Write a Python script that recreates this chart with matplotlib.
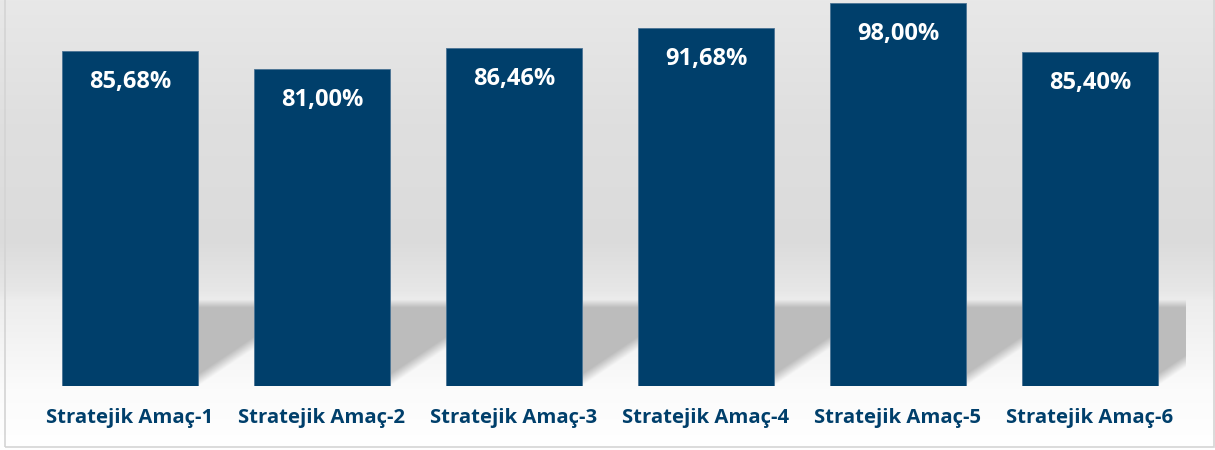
import numpy as np
import matplotlib.pyplot as plt
from matplotlib.patches import Rectangle

# Veriler
categories = ['Stratejik Amaç-1', 'Stratejik Amaç-2', 'Stratejik Amaç-3',
              'Stratejik Amaç-4', 'Stratejik Amaç-5', 'Stratejik Amaç-6']
values = [85.68, 81.00, 86.46, 91.68, 98.00, 85.40]
value_labels = ['85,68%', '81,00%', '86,46%', '91,68%', '98,00%', '85,40%']

navy = '#003f6b'
plt.rcParams['font.family'] = ['Open Sans', 'DejaVu Sans']

W, H = 1215, 450
fig = plt.figure(figsize=(W / 100, H / 100), dpi=100)

# Arka plan (dikey gri gradyan)
bg = fig.add_axes([0, 0, 1, 1])
stops_y = [0, 120, 240, 290, 300, 390, 450]
stops_g = [0.91, 0.875, 0.86, 0.905, 0.93, 0.985, 1.0]
rows = np.interp(np.arange(H), stops_y, stops_g)
bg.imshow(np.tile(rows[:, None, None], (1, 2, 3)), extent=(0, 1, 0, 1),
          aspect='auto', origin='upper')
bg.set_axis_off()

# Çerçeve
fig.patches.append(Rectangle((5 / W, 3 / H), 1209 / W, 1, transform=fig.transFigure,
                             fill=False, edgecolor='#d4d4d4', linewidth=1.2))

ax = fig.add_axes([34 / W, 64 / H, 1152 / W, 386 / H])
ax.patch.set_alpha(0)

x = np.arange(len(values))
width = 0.71
ymax = 386 / 3.908

# Çubuk gölgeleri
xs = np.linspace(-0.5, 5.5, 1500)
ys = np.linspace(0, 30, 240)
X, Y = np.meshgrid(xs, ys)
px_y = 386 / ymax
alpha = np.zeros_like(X)
for xi in x:
    xr = xi + width / 2
    top = np.clip((21 - Y) * px_y / 8 + 0.5, 0, 1)
    line = 1.5 + (X - xr) * 32.8
    diag = np.clip((Y - line) * px_y / 12 + 0.5, 0, 1)
    m = (X >= xr) & (X <= xr + 0.45)
    alpha = np.maximum(alpha, top * diag * m)
shadow = np.zeros(X.shape + (4,))
shadow[..., :3] = 0.74
shadow[..., 3] = alpha
ax.imshow(shadow, extent=(-0.5, 5.5, 0, 30), origin='lower', aspect='auto', zorder=1)

ax.bar(x, values, width=width, color=navy, edgecolor='#4a7394', linewidth=0.6, zorder=3)

for xi, v, lab in zip(x, values, value_labels):
    ax.annotate(lab, (xi, v), xytext=(0, -31), textcoords='offset pixels',
                ha='center', va='center', color='white', fontsize=17,
                fontweight='bold', zorder=4)

ax.set_xticks(x, categories, fontsize=14.6, fontweight='bold', color=navy)
ax.tick_params(axis='x', length=0, pad=16)
ax.set_yticks([])
for s in ax.spines.values():
    s.set_visible(False)
ax.set_xlim(-0.5, 5.5)
ax.set_ylim(0, ymax)

fig.savefig('out.png', dpi=100)
